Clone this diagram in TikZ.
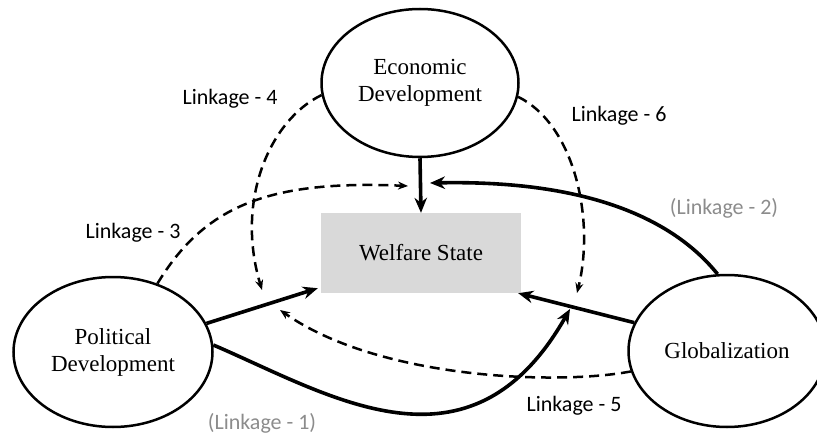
\documentclass[tikz,border=0pt]{standalone}
\usepackage{fontspec}
\setmainfont{Liberation Serif}
\newfontfamily\labfont{Carlito}
\usetikzlibrary{shapes.geometric,arrows.meta}
\definecolor{boxgray}{RGB}{217,217,217}
\definecolor{labgray}{RGB}{140,140,140}
\begin{document}
\begin{tikzpicture}[x=1pt,y=-1pt,
  ell/.style={draw,ellipse,line width=2.5pt,inner sep=0pt,
    font=\fontsize{23}{27}\selectfont,align=center},
  wsbox/.style={fill=boxgray,inner sep=0pt,minimum width=200pt,minimum height=80pt,
    font=\fontsize{23}{27}\selectfont},
  solidarr/.style={line width=3.6pt,-{Stealth[length=15pt,width=12.5pt]}},
  dasharr/.style={line width=2.5pt,dash pattern=on 10pt off 6pt,-{Stealth[length=10pt,width=8pt]}},
  lab/.style={font=\labfont\fontsize{22}{26}\selectfont,inner sep=0pt},
  glab/.style={lab,text=labgray}
]
\useasboundingbox (0,0) rectangle (817,441);
\begin{scope}
\clip (0,0) rectangle (817,441);
\node[ell,minimum width=197pt,minimum height=148pt] (econ) at (420,83) {Economic\\Development};
\node[ell,minimum width=199pt,minimum height=150pt] (pol) at (113,352) {Political\\Development};
\node[ell,minimum width=197pt,minimum height=152pt] (glob) at (727,351) {Globalization};
\end{scope}
\node[wsbox] (ws) at (421,253) {Welfare State};

\coordinate (m1) at (570,309);
\coordinate (m2) at (430,183);
\coordinate (m3) at (408,186);
\coordinate (m4) at (262,290);
\coordinate (m5) at (280,310);
\coordinate (m6) at (577,293);

% main effects
\draw[solidarr] (econ.south) -- (ws.north);
\draw[solidarr] (pol.17.7) -- ([xshift=-3pt,yshift=5pt]ws.south west);
\draw[solidarr] (glob.163.7) -- ([xshift=-3pt,yshift=0pt]ws.south east);
% moderation curves
\draw[solidarr] (glob.97) .. controls (670,215) and (580,180) .. (m2);
\draw[solidarr] (pol.4) .. controls (330,395) and (470,485) .. (m1);
% dashed linkages
\draw[dasharr] (pol.57) .. controls (205,205) and (270,180) .. (m3);
\draw[dasharr] (econ.187) .. controls (270,120) and (235,200) .. (m4);
\draw[dasharr] (econ.352.5) .. controls (575,125) and (595,220) .. (m6);
\draw[dasharr] (glob.192) .. controls (560,385) and (380,380) .. (m5);

% labels
\node[lab] (l4) at (230,99) {Linkage - 4};
\node[lab] (l3) at (133,233) {Linkage - 3};
\node[lab] (l6) at (619,116) {Linkage - 6};
\node[lab] (l5) at (574,406) {Linkage - 5};
\node[glab] (l2) at (724,208) {(Linkage - 2)};
\node[glab] (l1) at (262,423) {(Linkage - 1)};
\end{tikzpicture}
\end{document}
